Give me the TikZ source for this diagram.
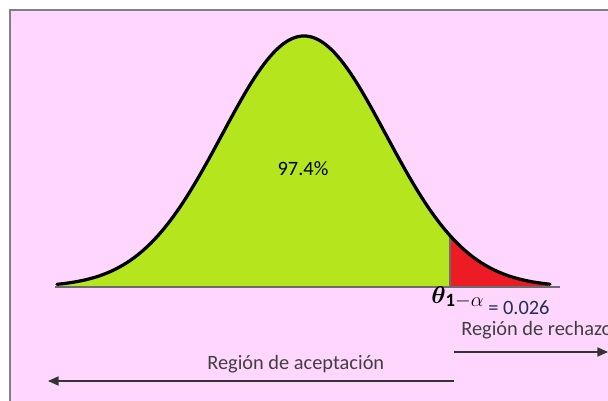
\documentclass[tikz,border=0pt]{standalone}
\usepackage{amsmath}
\usepackage{fontspec}
\setmainfont{Carlito}
\usetikzlibrary{arrows.meta}
\definecolor{bgpink}{RGB}{255,215,254}
\definecolor{accgreen}{RGB}{181,230,29}
\definecolor{rejred}{RGB}{237,28,36}
\definecolor{valblue}{RGB}{31,45,90}
\begin{document}
\begin{tikzpicture}[x=0.025cm, y=-0.025cm,
        every node/.style={font=\fontsize{14.5}{17}\selectfont, inner sep=0pt},
        regionarrow/.style={black!80, line width=0.9pt, -{Triangle[length=7.5pt,width=6.5pt]}},
        bell/.style={domain=#1, samples=90, smooth}]
                \useasboundingbox (0,0) rectangle (608,401);
                \fill[bgpink] (10,10) rectangle (608,401);
                \draw[gray, line width=1.4pt] (10,401) -- (10,10) -- (608,10);

                \fill[accgreen] (57,287) -- plot[bell=57:450] (\x,{287-251*exp(-0.5*pow((\x-304)/82,2))}) -- (450,287) -- cycle;
                \fill[rejred] (450,287) -- plot[bell=450:548] (\x,{287-251*exp(-0.5*pow((\x-304)/82,2))}) -- (548,287) -- cycle;
                \draw[gray!85!black, line width=0.9pt] (55,287) -- (560,287) (450,287) -- (450,{287-251*exp(-0.5*pow(146/82,2))});
                \draw[line width=2.3pt, line cap=round] plot[bell=57:550] (\x,{287-251*exp(-0.5*pow((\x-304)/82,2))});

                \node (pct) at (303,169) {97.4\%};
                \node[anchor=base west, font=\fontsize{19}{22}\selectfont] (theta) at (431,303) {$\boldsymbol{\theta}_{\mathbf{1}-\alpha}$};
                \node[anchor=base west, text=valblue] (val) at (488,314) {= 0.026};
                \node[anchor=base west, text=black!75] (rechazo) at (461,335) {Región de rechazo};
                \node[anchor=base west, text=black!75] (aceptacion) at (207,369) {Región de aceptación};

                \coordinate (split1) at (454,352);
                \coordinate (split2) at (454,381);
                \coordinate (rightend) at (608,352);
                \coordinate (leftend) at (48,381);
                \draw[regionarrow] (split1) -- (rightend);
                \draw[regionarrow] (split2) -- (leftend);
            \end{tikzpicture}
\end{document}
